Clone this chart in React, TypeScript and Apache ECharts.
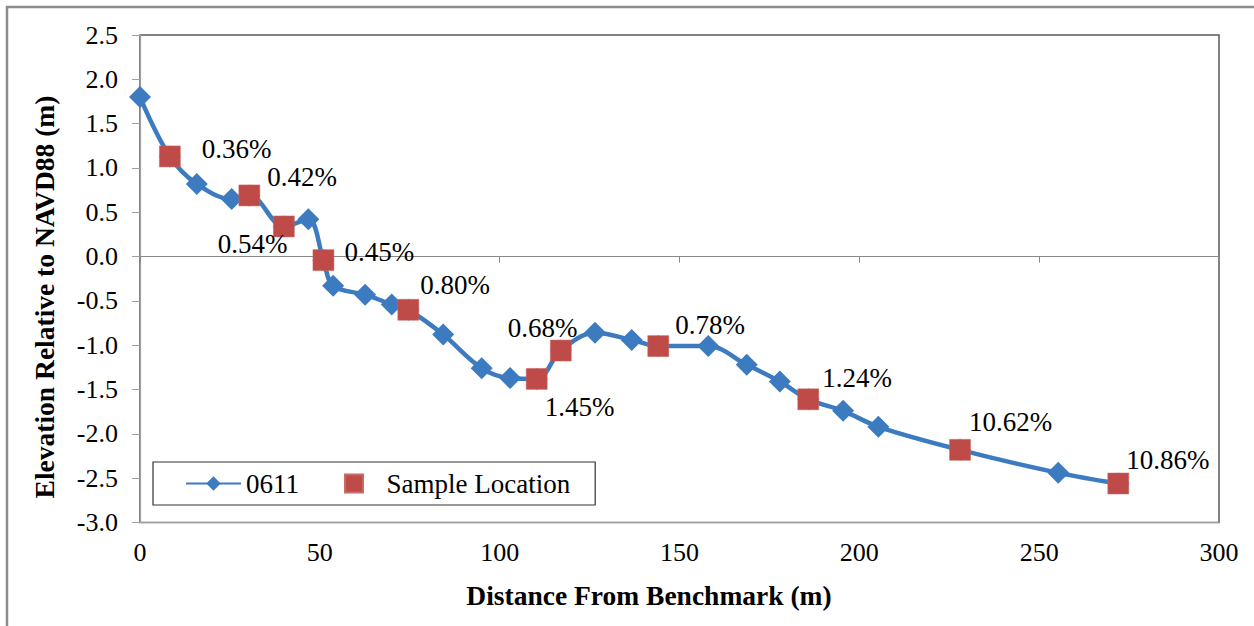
import { useEffect, useRef } from "react";
import * as echarts from "echarts";

// ---- data ----
const profileDistance = [0, 8.3, 15.8, 25.5, 30.4, 40.0, 46.8, 51.0, 53.7, 62.6, 70.0, 74.6, 84.3, 95.0, 102.9, 110.3, 117.0, 126.5, 136.7, 144.1, 158.0, 168.7, 177.9, 185.8, 195.5, 205.3, 228.0, 255.3, 272.0];
const profileElevation = [1.80, 1.13, 0.82, 0.65, 0.69, 0.34, 0.42, -0.04, -0.33, -0.43, -0.54, -0.60, -0.88, -1.26, -1.37, -1.38, -1.06, -0.86, -0.94, -1.01, -1.01, -1.22, -1.41, -1.61, -1.74, -1.92, -2.18, -2.44, -2.56];
const sampleDistance = [8.3, 30.4, 40.0, 51.0, 74.6, 110.3, 117.0, 144.1, 185.8, 228.0, 272.0];
const sampleElevation = [1.13, 0.69, 0.34, -0.04, -0.60, -1.38, -1.06, -1.01, -1.61, -2.18, -2.56];
const sampleLabels = ["0.36%", "0.42%", "0.54%", "0.45%", "0.80%", "1.45%", "0.68%", "0.78%", "1.24%", "10.62%", "10.86%"];

const seriesNames = ["0611", "Sample Location"];
const xAxisTitle = "Distance From Benchmark (m)";
const yAxisTitle = "Elevation Relative to NAVD88 (m)";
const xMin = 0, xMax = 300, xStep = 50;
const yMin = -3, yMax = 2.5, yStep = 0.5;

// ---- layout (label placement relative to each square) ----
const labelOffsets = [[32, -7], [18, -18], [-66, 18], [21, -8], [12, -25], [8, 28], [-53, -23], [17, -21], [14, -21], [9, -28], [8, -24]];

const FONT = "Liberation Serif";
const BLUE = "#3D7BC0";
const RED = "#BE4B48";

export default function App() {
  const ref = useRef<HTMLDivElement>(null);
  useEffect(() => {
    document.body.style.margin = "0";
    const chart = echarts.init(ref.current!, null, { renderer: "svg" });
    const lineData = profileDistance.map((d, i) => [d, profileElevation[i]]);
    const sampleData = sampleDistance.map((d, i) => ({
      value: [d, sampleElevation[i]],
      label: {
        show: true,
        formatter: sampleLabels[i],
        position: "inside",
        align: "left",
        verticalAlign: "middle",
        offset: labelOffsets[i],
      },
    }));
    chart.setOption({
      animation: false,
      backgroundColor: "#fff",
      textStyle: { fontFamily: FONT },
      grid: { left: 140, top: 35, right: 35, bottom: 626 - 522.5, containLabel: false, show: true, borderColor: "#5a5a5a", borderWidth: 1.5, backgroundColor: "transparent" },
      legend: {
        left: 153,
        top: 462,
        orient: "horizontal",
        padding: [8, 25, 8, 32],
        itemWidth: 55,
        itemHeight: 18,
        itemGap: 45,
        borderColor: "#333",
        borderWidth: 1.2,
        textStyle: { fontFamily: FONT, fontSize: 27, color: "#000" },
        data: [
          { name: seriesNames[0] },
          { name: seriesNames[1], icon: "path://M0 0H10V10H0Z" },
        ],
      },
      xAxis: [
        {
          type: "value", min: xMin, max: xMax, interval: xStep, position: "bottom",
          axisLine: { onZero: false, show: true, lineStyle: { color: "#a0a0a0", width: 1.2 } },
          axisTick: { show: false },
          splitLine: { show: false },
          axisLabel: { fontFamily: FONT, fontSize: 26, color: "#000", margin: 17 },
        },
        {
          type: "value", min: xMin, max: xMax, interval: xStep, position: "top",
          axisLine: { onZero: true, show: true, lineStyle: { color: "#8a8a8a", width: 1.2 } },
          axisTick: { show: true, inside: true, length: 6, lineStyle: { color: "#8a8a8a" } },
          splitLine: { show: false },
          axisLabel: { show: false },
        },
      ],
      yAxis: {
        type: "value", min: yMin, max: yMax, interval: yStep,
        axisLine: { show: true, onZero: false, lineStyle: { color: "#a0a0a0", width: 1.2 } },
        axisTick: { show: true, length: 8, lineStyle: { color: "#a0a0a0" } },
        splitLine: { show: false },
        axisLabel: { fontFamily: FONT, fontSize: 26, color: "#000", margin: 22, formatter: (v: number) => v.toFixed(1) },
      },
      graphic: [
        { type: "rect", shape: { x: 7, y: 7, width: 1300, height: 700 }, style: { fill: "none", stroke: "#8c8c8c", lineWidth: 2.5 }, silent: true, z: -10 },
        { type: "text", x: 44, y: 297, rotation: Math.PI / 2, style: { text: yAxisTitle, fontFamily: FONT, fontSize: 27.5, fontWeight: "bold", fill: "#000", align: "center", verticalAlign: "middle" } },
        { type: "text", x: 649, y: 595, style: { text: xAxisTitle, fontFamily: FONT, fontSize: 27.5, fontWeight: "bold", fill: "#000", align: "center", verticalAlign: "middle" } },
      ],
      series: [
        {
          name: seriesNames[0], type: "line", data: lineData, smooth: 0.35,
          symbol: "diamond", symbolSize: 22,
          lineStyle: { color: BLUE, width: 4.5 },
          itemStyle: { color: BLUE },
          z: 2,
        },
        {
          name: seriesNames[1], type: "scatter", data: sampleData,
          symbol: "rect", symbolSize: 21,
          itemStyle: { color: RED, opacity: 1, borderColor: "#c96a67", borderWidth: 0.5 },
          label: { fontFamily: FONT, fontSize: 27, color: "#000" },
          z: 3,
        },
      ],
    });
    return () => chart.dispose();
  }, []);
  return <div ref={ref} style={{ width: 1254, height: 626 }} />;
}
